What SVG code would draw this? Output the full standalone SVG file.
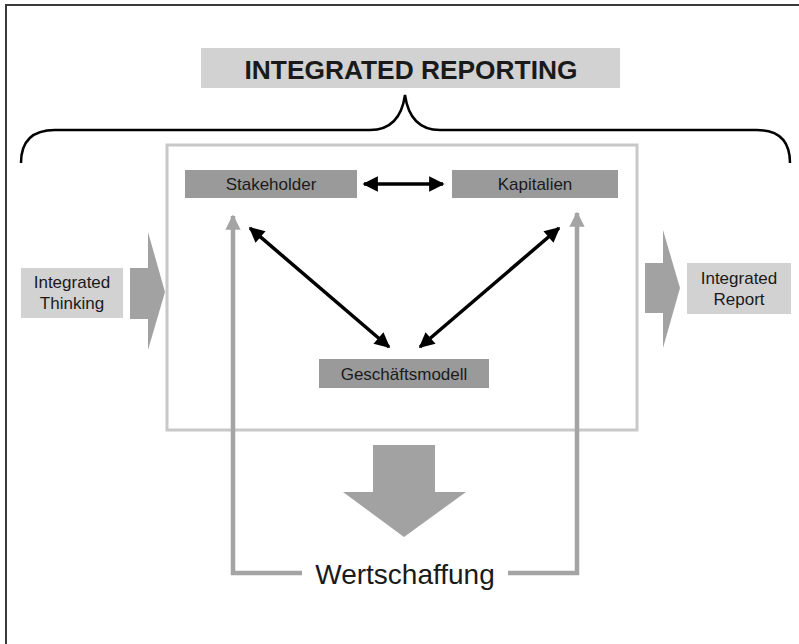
<svg xmlns="http://www.w3.org/2000/svg" width="799" height="644" viewBox="0 0 799 644">
  <style>
    text { font-family: "Liberation Sans", Arial, sans-serif; fill: #1a1a1a; }
    .node { fill: #9a9a9a; }
    .light { fill: #d2d2d2; }
    .block { fill: #a2a2a2; }
    .lbl { font-size: 17px; text-anchor: middle; }
    .black { stroke: #000; stroke-width: 3.5; fill: none; }
    .loop { stroke: #a4a4a4; stroke-width: 4.5; fill: none; }
  </style>
  <defs>
    <marker id="headBlack" viewBox="0 0 10 10" refX="9" refY="5" markerWidth="4.6" markerHeight="4.4" orient="auto-start-reverse" markerUnits="strokeWidth">
      <path d="M0,0 L10,5 L0,10 Z" fill="#000"/>
    </marker>
    <marker id="headGray" viewBox="0 0 10 10" refX="9" refY="5" markerWidth="3.6" markerHeight="3.4" orient="auto" markerUnits="strokeWidth">
      <path d="M0,0 L10,5 L0,10 Z" fill="#a4a4a4"/>
    </marker>
  </defs>

  <rect x="0" y="0" width="799" height="644" fill="#fff"/>
  <!-- frame edges -->
  <path d="M6,644 V5 H799" fill="none" stroke="#3a3a3a" stroke-width="2"/>

  <!-- title -->
  <g id="title">
    <rect x="201" y="48" width="419" height="40" class="light"/>
    <text x="411" y="79" font-size="25" font-weight="bold" text-anchor="middle" textLength="333" lengthAdjust="spacingAndGlyphs">INTEGRATED REPORTING</text>
  </g>

  <!-- brace spanning the framework -->
  <path id="brace" d="M21,163 Q21,130 55,130 H370 Q400,130 405,95 Q410,130 440,130 H757 Q790,130 790,163" fill="none" stroke="#000" stroke-width="2.5"/>

  <!-- framework container -->
  <g id="container">
    <rect x="167" y="145" width="470" height="285" fill="#fff" stroke="#c8c8c8" stroke-width="3"/>
  </g>

  <g id="stakeholder">
    <rect x="185" y="170" width="172" height="28" class="node"/>
    <text x="271" y="190" class="lbl">Stakeholder</text>
  </g>
  <g id="kapitalien">
    <rect x="452" y="170" width="166" height="28" class="node"/>
    <text x="535" y="190" class="lbl">Kapitalien</text>
  </g>
  <g id="geschaeftsmodell">
    <rect x="319" y="359" width="170" height="29" class="node"/>
    <text x="404" y="380" class="lbl">Geschäftsmodell</text>
  </g>

  <g id="integrated-thinking">
    <rect x="21" y="268" width="102" height="50" class="light"/>
    <text x="72" y="288" class="lbl">Integrated</text>
    <text x="72" y="309" class="lbl">Thinking</text>
  </g>
  <g id="integrated-report">
    <rect x="687" y="263" width="104" height="51" class="light"/>
    <text x="739" y="284" class="lbl">Integrated</text>
    <text x="739" y="305" class="lbl">Report</text>
  </g>

  <g id="wertschaffung">
    <text x="405" y="584" font-size="28" text-anchor="middle">Wertschaffung</text>
  </g>

  <!-- connectors -->
  <g id="connectors">
    <!-- input / output block arrows -->
    <polygon points="130,268 148,268 148,232 165,292 148,350 148,319 130,319" class="block"/>
    <polygon points="645,263 663,263 663,230 680,288 663,348 663,313 645,313" class="block"/>
    <!-- value creation block arrow -->
    <polygon points="373,445 435,445 435,492 466,492 404,537 343,492 373,492" class="block"/>

    <!-- relations between the three elements -->
    <line x1="364" y1="184" x2="443" y2="184" class="black" marker-start="url(#headBlack)" marker-end="url(#headBlack)"/>
    <line x1="250" y1="228" x2="389" y2="347" class="black" marker-start="url(#headBlack)" marker-end="url(#headBlack)"/>
    <line x1="559" y1="228" x2="420" y2="347" class="black" marker-start="url(#headBlack)" marker-end="url(#headBlack)"/>

    <!-- feedback loop from value creation -->
    <path d="M302,573 H233 V216" class="loop" marker-end="url(#headGray)"/>
    <path d="M508,573 H577 V213" class="loop" marker-end="url(#headGray)"/>
  </g>
</svg>
